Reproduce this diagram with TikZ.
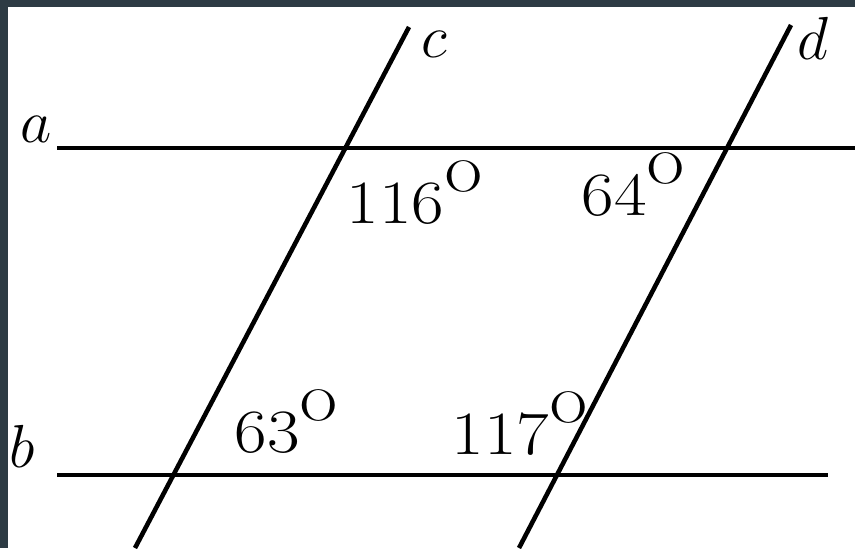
\documentclass[tikz,border=0pt]{standalone}
\usepackage{fontspec}
\usepackage{graphicx}
\definecolor{frame}{HTML}{2D3B44}
\newcommand\degO{\raisebox{0.52em}{\fontsize{12.5}{13}\selectfont O}}
\newcommand\angtext[1]{\scalebox{1.15}[1]{#1\degO}}
\tikzset{
  ln/.style={line width=1.3pt, black},
  lbl/.style={inner sep=0pt, anchor=base west, font=\fontsize{18}{20}\selectfont},
  ang/.style={inner sep=0pt, anchor=base west, font=\fontsize{17.5}{20}\selectfont},
}
\begin{document}
\begin{tikzpicture}[x=0.01cm, y=-0.01cm]
\fill[frame] (0,0) rectangle (855,548);
\fill[white] (8,7) rectangle (855,548);
\useasboundingbox (0,0) rectangle (855,548);
% lines
\coordinate (a1) at (57,148);
\coordinate (a2) at (855,148);
\coordinate (b1) at (57,475);
\coordinate (b2) at (828,475);
\coordinate (c1) at (409,27);
\coordinate (c2) at (135,548);
\coordinate (d1) at (791,25);
\coordinate (d2) at (519,548);
\draw[ln] (a1) -- (a2);
\draw[ln] (b1) -- (b2);
\draw[ln] (c1) -- (c2);
\draw[ln] (d1) -- (d2);
% line labels
\node[lbl] (la) at (20,142) {$a$};
\node[lbl] (lb) at (9,467) {$b$};
\node[lbl] (lc) at (421,57) {$c$};
\node[lbl] (ld) at (797,59) {$d$};
% angle labels
\node[ang] (t116) at (346,223) {\angtext{116}};
\node[ang] (t64) at (581,215) {\angtext{64}};
\node[ang] (t63) at (234,452) {\angtext{63}};
\node[ang] (t117) at (451,454) {\angtext{117}};
\end{tikzpicture}
\end{document}
